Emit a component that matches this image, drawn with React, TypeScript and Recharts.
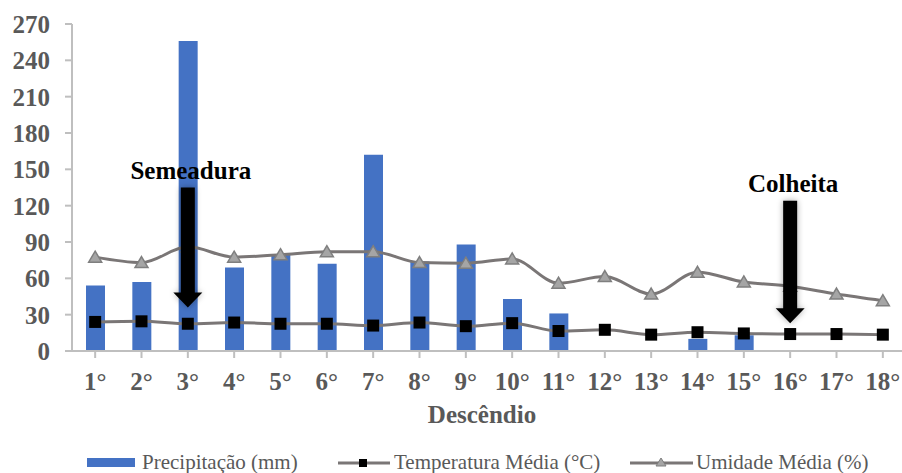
import React from 'react';
import { ComposedChart, Bar, Line, XAxis, YAxis, Legend, ReferenceLine } from 'recharts';

const categories = ['1°', '2°', '3°', '4°', '5°', '6°', '7°', '8°', '9°', '10°', '11°', '12°', '13°', '14°', '15°', '16°', '17°', '18°'];
const precipitation = [54, 57, 256, 69, 80, 72, 162, 74, 88, 43, 31, 0, 0, 10, 13, 0, 0, 0];
const temperature = [24, 24.5, 22.5, 23.5, 22.5, 22.5, 21, 23.5, 20.5, 23, 16.5, 17.5, 13.5, 15.5, 14.5, 14, 14, 13.5];
const humidity = [77.5, 73, 86, 77.5, 79.5, 82, 82, 73, 72.5, 76, 56, 61.5, 47, 65, 57, 53.5, 47, 41.5];
const yTicks = [0, 30, 60, 90, 120, 150, 180, 210, 240, 270];
const seriesNames = ['Precipitação (mm)', 'Temperatura Média (°C)', 'Umidade Média (%)'];
const events = [
  { x: '3°', label: 'Semeadura', from: 135, to: 36 },
  { x: '16°', label: 'Colheita', from: 124, to: 23 },
];

const data = categories.map((c, i) => ({
  cat: c,
  prec: precipitation[i],
  temp: temperature[i],
  hum: humidity[i],
}));

const FONT = '"Liberation Serif", "Times New Roman", serif';
const TEXT = '#595959';
const BLUE = '#4472C4';
const LINE = '#7a7676';
const AXIS = '#bfbfbf';

const SquareDot = (props: any) => {
  const { cx, cy } = props;
  if (cx == null || cy == null) return null;
  return <rect x={cx - 6} y={cy - 6} width={12} height={12} fill="#000" />;
};

const TriangleDot = (props: any) => {
  const { cx, cy } = props;
  if (cx == null || cy == null) return null;
  return (
    <polygon
      points={`${cx},${cy - 6} ${cx + 6.5},${cy + 5} ${cx - 6.5},${cy + 5}`}
      fill="#a5a5a5"
      stroke="#7f7f7f"
      strokeWidth={1.5}
    />
  );
};

const makeArrow = (label: string) => (props: any) => {
  const { x1, y1, y2 } = props;
  if (x1 == null || y1 == null || y2 == null) return null;
  const x = x1;
  const top = Math.min(y1, y2);
  const tip = Math.max(y1, y2);
  const hh = 15;
  const pts = [
    [x - 7, top], [x + 7, top], [x + 7, tip - hh], [x + 14.5, tip - hh],
    [x, tip], [x - 14.5, tip - hh], [x - 7, tip - hh],
  ].map((p) => p.join(',')).join(' ');
  return (
    <g>
      <defs>
        <filter id={`sh-${label}`} x="-100%" y="-20%" width="300%" height="140%">
          <feGaussianBlur in="SourceAlpha" stdDeviation="3" />
          <feComponentTransfer><feFuncA type="linear" slope="0.35" /></feComponentTransfer>
          <feMerge><feMergeNode /><feMergeNode in="SourceGraphic" /></feMerge>
        </filter>
      </defs>
      <polygon points={pts} fill="#000" filter={`url(#sh-${label})`} />
      <text x={x + 3} y={top - 9} textAnchor="middle" style={{ fontFamily: FONT, fontWeight: 'bold', fontSize: 25 }} fill="#000">
        {label}
      </text>
    </g>
  );
};

const LegendContent = () => (
  <svg width={902} height={22} style={{ display: 'block' }}>
    <g style={{ fontFamily: FONT, fontSize: 21 }} fill={TEXT}>
      <rect x={87} y={7} width={48} height={9} fill={BLUE} />
      <text x={142} y={18}>{seriesNames[0]}</text>
      <line x1={338} y1={12} x2={390} y2={12} stroke={LINE} strokeWidth={3} />
      <rect x={359} y={8} width={8} height={8} fill="#000" />
      <text x={394} y={18}>{seriesNames[1]}</text>
      <line x1={630} y1={12} x2={693} y2={12} stroke={LINE} strokeWidth={3} />
      <polygon points="661,7 666,15 656,15" fill="#a5a5a5" stroke="#7f7f7f" strokeWidth={1} />
      <text x={696} y={18}>{seriesNames[2]}</text>
    </g>
  </svg>
);

const XTitle = (props: any) => {
  const { viewBox } = props;
  if (!viewBox) return null;
  return (
    <text x={482} y={viewBox.y + 72} textAnchor="middle" style={{ fontFamily: FONT, fontWeight: 'bold', fontSize: 25 }} fill={TEXT}>
      Descêndio
    </text>
  );
};

const tickStyle = { fill: TEXT, fontFamily: FONT, fontWeight: 'bold', fontSize: 25 };

export default function App() {
  return (
    <div style={{ position: 'absolute', left: 0, top: 0, width: 902, height: 473, background: '#fff', overflow: 'hidden' }}>
      <ComposedChart
        width={902}
        height={473}
        data={data}
        margin={{ top: 24, right: -4, bottom: 0, left: 0 }}
      >
        <XAxis
          dataKey="cat"
          height={100}
          tickSize={7}
          tickMargin={14}
          interval={0}
          axisLine={{ stroke: AXIS, strokeWidth: 2 }}
          tickLine={{ stroke: AXIS, strokeWidth: 2 }}
          tick={tickStyle}
          label={<XTitle />}
        />
        <YAxis
          width={72}
          domain={[0, 270]}
          ticks={yTicks}
          interval={0}
          tickSize={7}
          tickMargin={15}
          axisLine={{ stroke: AXIS, strokeWidth: 2 }}
          tickLine={{ stroke: AXIS, strokeWidth: 2 }}
          tick={tickStyle}
        />
        <Legend verticalAlign="bottom" height={22} wrapperStyle={{ left: 0, width: 902 }} content={() => <LegendContent />} />
        <Bar dataKey="prec" name={seriesNames[0]} fill={BLUE} barSize={19} isAnimationActive={false} />
        <Line
          dataKey="hum"
          name={seriesNames[2]}
          type="monotone"
          stroke={LINE}
          strokeWidth={3}
          dot={<TriangleDot />}
          activeDot={false}
          isAnimationActive={false}
        />
        <Line
          dataKey="temp"
          name={seriesNames[1]}
          type="monotone"
          stroke={LINE}
          strokeWidth={3}
          dot={<SquareDot />}
          activeDot={false}
          isAnimationActive={false}
        />
        {events.map((e) => (
          <ReferenceLine
            key={e.label}
            segment={[{ x: e.x, y: e.from }, { x: e.x, y: e.to }]}
            shape={makeArrow(e.label)}
            ifOverflow="visible"
            {...({ zIndex: 3000 } as any)}
          />
        ))}
      </ComposedChart>
    </div>
  );
}
